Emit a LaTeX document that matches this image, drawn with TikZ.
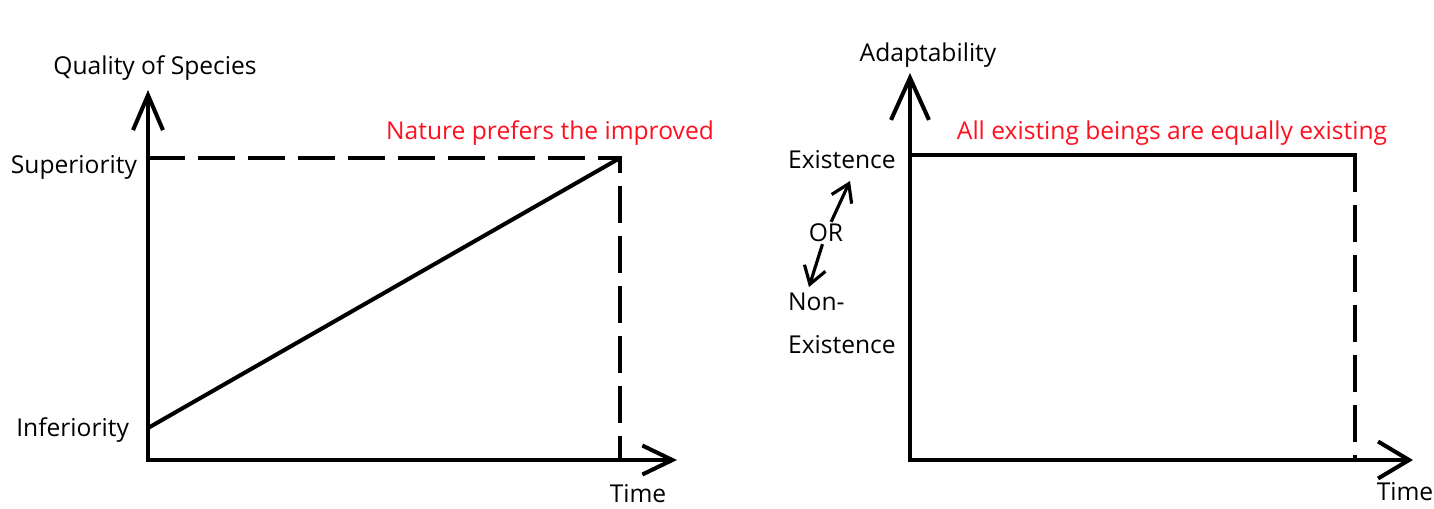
\documentclass[tikz,border=0pt]{standalone}
\usepackage{fontspec}
\setmainfont{Open Sans}
\usepackage{xcolor}
\usetikzlibrary{arrows.meta,positioning}
\definecolor{notered}{RGB}{255,16,32}
\tikzset{
  axisline/.style={
    line width=2.3pt,
    line join=miter,
    draw=black
  },
  dashline/.style={
    axisline,
    dash pattern=on 0.74cm off 0.26cm
  },
  axislabel/.style={
    font=\fontsize{14}{17}\selectfont,
    inner sep=1pt,
    text=black
  },
  notelabel/.style={
    axislabel,
    text=notered
  },
  orarrow/.style={
    -{Straight Barb[length=0.34cm,width=0.44cm]},
    line width=1.8pt,
    draw=black
  }
}

\begin{document}
\begin{tikzpicture}[x=0.02cm,y=-0.02cm]
\useasboundingbox (0,0) rectangle (1434,508);

% left graph: quality of species
\coordinate (lorig) at (148,460);
\coordinate (lytip) at (148,90);
\coordinate (lxtip) at (677,460);
\coordinate (lsup) at (148,158);
\coordinate (linf) at (148,428);
\coordinate (lpeak) at (620,158);
\coordinate (lfoot) at (620,460);

\draw[axisline, {Straight Barb[length=0.7cm,width=0.6cm]}-{Straight Barb[length=0.6cm,width=0.58cm]}]
  (lytip) -- (lorig) -- (lxtip);
\draw[dashline] (lsup) -- (lpeak) -- (lfoot);
\draw[axisline] (linf) -- (lpeak);

\node[axislabel] (lytitle) at (155,68) {Quality of Species};
\node[axislabel, anchor=east] (lsuptext) at (139,167) {Superiority};
\node[axislabel, anchor=east] (linftext) at (131,430) {Inferiority};
\node[notelabel] (lnote) at (550,133) {Nature prefers the improved};
\node[axislabel] (ltime) at (638,494) {Time};

% right graph: adaptability
\coordinate (rorig) at (910,460);
\coordinate (rytip) at (910,73);
\coordinate (rxtip) at (1413,460);
\coordinate (rtop) at (910,155);
\coordinate (rcorner) at (1355,155);
\coordinate (rfoot) at (1355,460);

\draw[axisline, {Straight Barb[length=0.84cm,width=0.76cm]}-{Straight Barb[length=0.62cm,width=0.74cm]}]
  (rytip) -- (rorig) -- (rxtip);
\draw[axisline] (rtop) -- (rcorner) -- ++(0,20);
\draw[dashline] (rcorner) -- (rfoot);

\node[axislabel] (rytitle) at (928,55) {Adaptability};
\node[notelabel] (rnote) at (1172,133) {All existing beings are equally existing};
\node[axislabel, anchor=west] (rexist) at (786,160) {Existence};
\node[axislabel] (ror) at (826,233) {OR};
\node[axislabel, anchor=west] (rnon) at (786,302) {Non-};
\node[axislabel, anchor=west] (rnonexist) at (786,345) {Existence};
\node[axislabel] (rtime) at (1405,492) {Time};

\coordinate (exup) at (850,181);
\coordinate (exdown) at (809,287);
\draw[orarrow] (ror) -- (exup);
\draw[orarrow] (ror) -- (exdown);
\end{tikzpicture}
\end{document}
